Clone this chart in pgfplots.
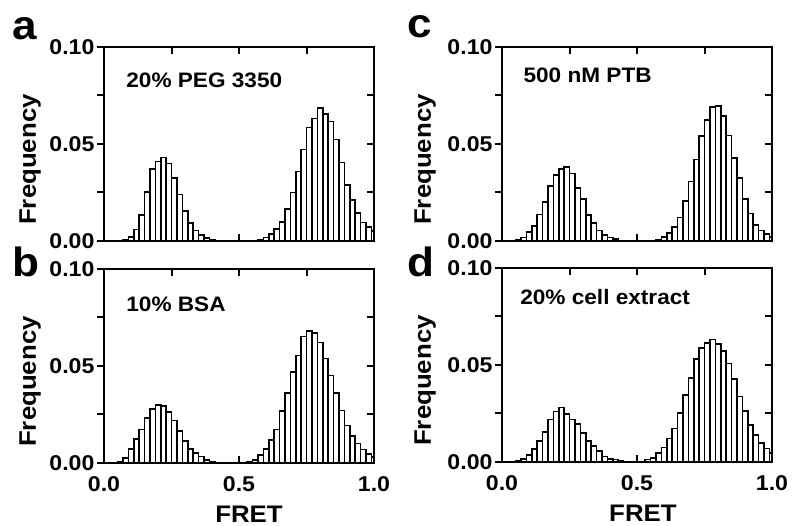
\documentclass[border=0pt]{standalone}
\usepackage{fontspec}
\setmainfont{Liberation Sans}[FakeStretch=1.08]
\usepackage{pgfplots}
\pgfplotsset{compat=1.18}

\pgfplotsset{
  panel/.style={scale only axis, width=270bp, height=194bp,
    xmin=0, xmax=1, ymin=0, ymax=0.1,
    xtick={0,0.5,1}, ytick={0,0.05,0.1},
    minor x tick num=1, minor y tick num=1,
    tick align=inside, xtick pos=both, ytick pos=right,
    yticklabel pos=left, xticklabel pos=left,
    major tick length=7bp, minor tick length=7bp,
    axis line style={line width=2.4bp},
    every tick/.style={black, line width=2bp},
    /pgf/number format/assume math mode=true,
    tick label style={font=\bfseries\fontsize{21.5}{21.5}\selectfont},
    yticklabel style={/pgf/number format/fixed, /pgf/number format/fixed zerofill,
      /pgf/number format/precision=2, xshift=-6bp},
    xticklabel style={/pgf/number format/fixed, /pgf/number format/fixed zerofill,
      /pgf/number format/precision=1, yshift=-10bp},
    ylabel={Frequency},
    ylabel style={font=\bfseries\fontsize{24}{24}\selectfont, anchor=center},
    xlabel style={font=\bfseries\fontsize{24}{24}\selectfont, anchor=center},
  },
  outtick/.style={scale only axis, width=270bp, height=194bp,
    xmin=0, xmax=1, ymin=0, ymax=0.1, xtick=\empty,
    ytick={0,0.05,0.1}, minor y tick num=1, yticklabels={},
    ytick pos=left, tick align=outside,
    major tick length=7bp, minor tick length=7bp,
    axis line style={line width=2.4bp},
    every tick/.style={black, line width=2bp}},
  bars/.style={ybar, bar width=0.02, bar shift=0pt, draw=black, fill=white, line width=1.6bp},
}
\newcommand{\paneltext}[1]{\bfseries\fontsize{21}{21}\selectfont #1}

\begin{document}
\begin{tikzpicture}
\useasboundingbox (0bp,0bp) rectangle (792bp,526bp);

% a
\begin{axis}[panel, at={(104bp,285bp)}, xticklabels={},
  ylabel style={at={(axis description cs:-0.274,0.42)}}]
\addplot[bars] coordinates {
 (0.06,0.0002)(0.08,0.0005)(0.10,0.002)(0.12,0.006)(0.14,0.0135)(0.16,0.0254)
 (0.18,0.037)(0.20,0.041)(0.22,0.043)(0.24,0.040)(0.26,0.0325)(0.28,0.024)
 (0.30,0.0156)(0.32,0.0092)(0.34,0.0054)(0.36,0.003)(0.38,0.0014)(0.40,0.0005)
 (0.56,0.0003)(0.58,0.0008)(0.60,0.0018)(0.62,0.0037)(0.64,0.0063)(0.66,0.0099)
 (0.68,0.0164)(0.70,0.025)(0.72,0.0358)(0.74,0.0472)(0.76,0.0585)(0.78,0.0631)
 (0.80,0.0687)(0.82,0.0654)(0.84,0.0615)(0.86,0.0524)(0.88,0.0404)(0.90,0.029)
 (0.92,0.0211)(0.94,0.0145)(0.96,0.0095)(0.98,0.0072)(1.00,0.005)};
\node[anchor=base west] at (axis description cs:0.07,0.79) {\paneltext{20\% PEG 3350}};
\end{axis}
\begin{axis}[outtick, at={(104bp,285bp)}]\end{axis}

% b
\begin{axis}[panel, at={(104bp,63bp)}, xlabel={FRET},
  ylabel style={at={(axis description cs:-0.274,0.42)}},
  xlabel style={at={(axis description cs:0.537,-0.262)}}]
\addplot[bars] coordinates {
 (0.06,0.0007)(0.08,0.0026)(0.10,0.0072)(0.12,0.0124)(0.14,0.0172)(0.16,0.0231)
 (0.18,0.0279)(0.20,0.0298)(0.22,0.0293)(0.24,0.0264)(0.26,0.022)(0.28,0.0164)
 (0.30,0.0112)(0.32,0.0072)(0.34,0.0052)(0.36,0.0034)(0.38,0.0017)(0.40,0.0007)(0.42,0.0002)
 (0.54,0.0007)(0.56,0.0017)(0.58,0.004)(0.60,0.0072)(0.62,0.012)(0.64,0.0172)
 (0.66,0.0269)(0.68,0.0362)(0.70,0.0469)(0.72,0.0555)(0.74,0.0652)(0.76,0.0681)
 (0.78,0.0669)(0.80,0.0621)(0.82,0.0538)(0.84,0.0452)(0.86,0.0362)(0.88,0.0271)
 (0.90,0.0193)(0.92,0.0138)(0.94,0.01)(0.96,0.0069)(0.98,0.0047)(1.00,0.003)};
\node[anchor=base west] at (axis description cs:0.07,0.782) {\paneltext{10\% BSA}};
\end{axis}
\begin{axis}[outtick, at={(104bp,63bp)}]\end{axis}

% c
\begin{axis}[panel, at={(502bp,285bp)}, xticklabels={},
  ylabel style={at={(axis description cs:-0.285,0.42)}}]
\addplot[bars] coordinates {
 (0.06,0.0007)(0.08,0.0017)(0.10,0.0045)(0.12,0.0076)(0.14,0.0137)(0.16,0.0201)
 (0.18,0.0284)(0.20,0.0341)(0.22,0.0371)(0.24,0.0381)(0.26,0.0347)(0.28,0.0274)
 (0.30,0.0215)(0.32,0.0133)(0.34,0.0094)(0.36,0.0055)(0.38,0.0031)(0.40,0.0017)
 (0.42,0.0009)(0.44,0.0003)
 (0.58,0.0007)(0.60,0.002)(0.62,0.0042)(0.64,0.0073)(0.66,0.0121)(0.68,0.0206)
 (0.70,0.0307)(0.72,0.042)(0.74,0.054)(0.76,0.0624)(0.78,0.069)(0.80,0.0695)
 (0.82,0.0645)(0.84,0.0544)(0.86,0.0428)(0.88,0.0324)(0.90,0.0215)(0.92,0.0142)
 (0.94,0.0081)(0.96,0.0055)(0.98,0.0035)(1.00,0.002)};
\node[anchor=base west] at (axis description cs:0.067,0.819) {\paneltext{500 nM PTB}};
\end{axis}
\begin{axis}[outtick, at={(502bp,285bp)}]\end{axis}

% d
\begin{axis}[panel, at={(502bp,64bp)}, xlabel={FRET},
  ylabel style={at={(axis description cs:-0.285,0.42)}},
  xlabel style={at={(axis description cs:0.522,-0.262)}}]
\addplot[bars] coordinates {
 (0.06,0.0005)(0.08,0.0014)(0.10,0.0035)(0.12,0.0067)(0.14,0.0109)(0.16,0.0156)
 (0.18,0.022)(0.20,0.026)(0.22,0.028)(0.24,0.0246)(0.26,0.022)(0.28,0.0196)
 (0.30,0.015)(0.32,0.0109)(0.34,0.0081)(0.36,0.0057)(0.38,0.0029)(0.40,0.0017)
 (0.42,0.0012)(0.44,0.0007)(0.46,0.0003)
 (0.52,0.0003)(0.54,0.0012)(0.56,0.002)(0.58,0.0047)(0.60,0.0074)(0.62,0.0121)
 (0.64,0.0173)(0.66,0.0254)(0.68,0.0346)(0.70,0.0433)(0.72,0.0531)(0.74,0.0588)
 (0.76,0.0614)(0.78,0.0631)(0.80,0.0609)(0.82,0.0571)(0.84,0.0507)(0.86,0.0429)
 (0.88,0.0337)(0.90,0.0263)(0.92,0.019)(0.94,0.0138)(0.96,0.0099)(0.98,0.0069)(1.00,0.0047)};
\node[anchor=base west] at (axis description cs:0.055,0.813) {\paneltext{20\% cell extract}};
\end{axis}
\begin{axis}[outtick, at={(502bp,64bp)}]\end{axis}

% panel letters
\node[anchor=base west, inner sep=0pt, font=\bfseries\fontsize{41}{41}\selectfont] at (12bp,486bp) {a};
\node[anchor=base west, inner sep=0pt, font=\bfseries\fontsize{41}{41}\selectfont] at (12bp,249bp) {b};
\node[anchor=base west, inner sep=0pt, font=\bfseries\fontsize{41}{41}\selectfont] at (407bp,488bp) {c};
\node[anchor=base west, inner sep=0pt, font=\bfseries\fontsize{41}{41}\selectfont] at (407bp,249bp) {d};
\end{tikzpicture}
\end{document}
